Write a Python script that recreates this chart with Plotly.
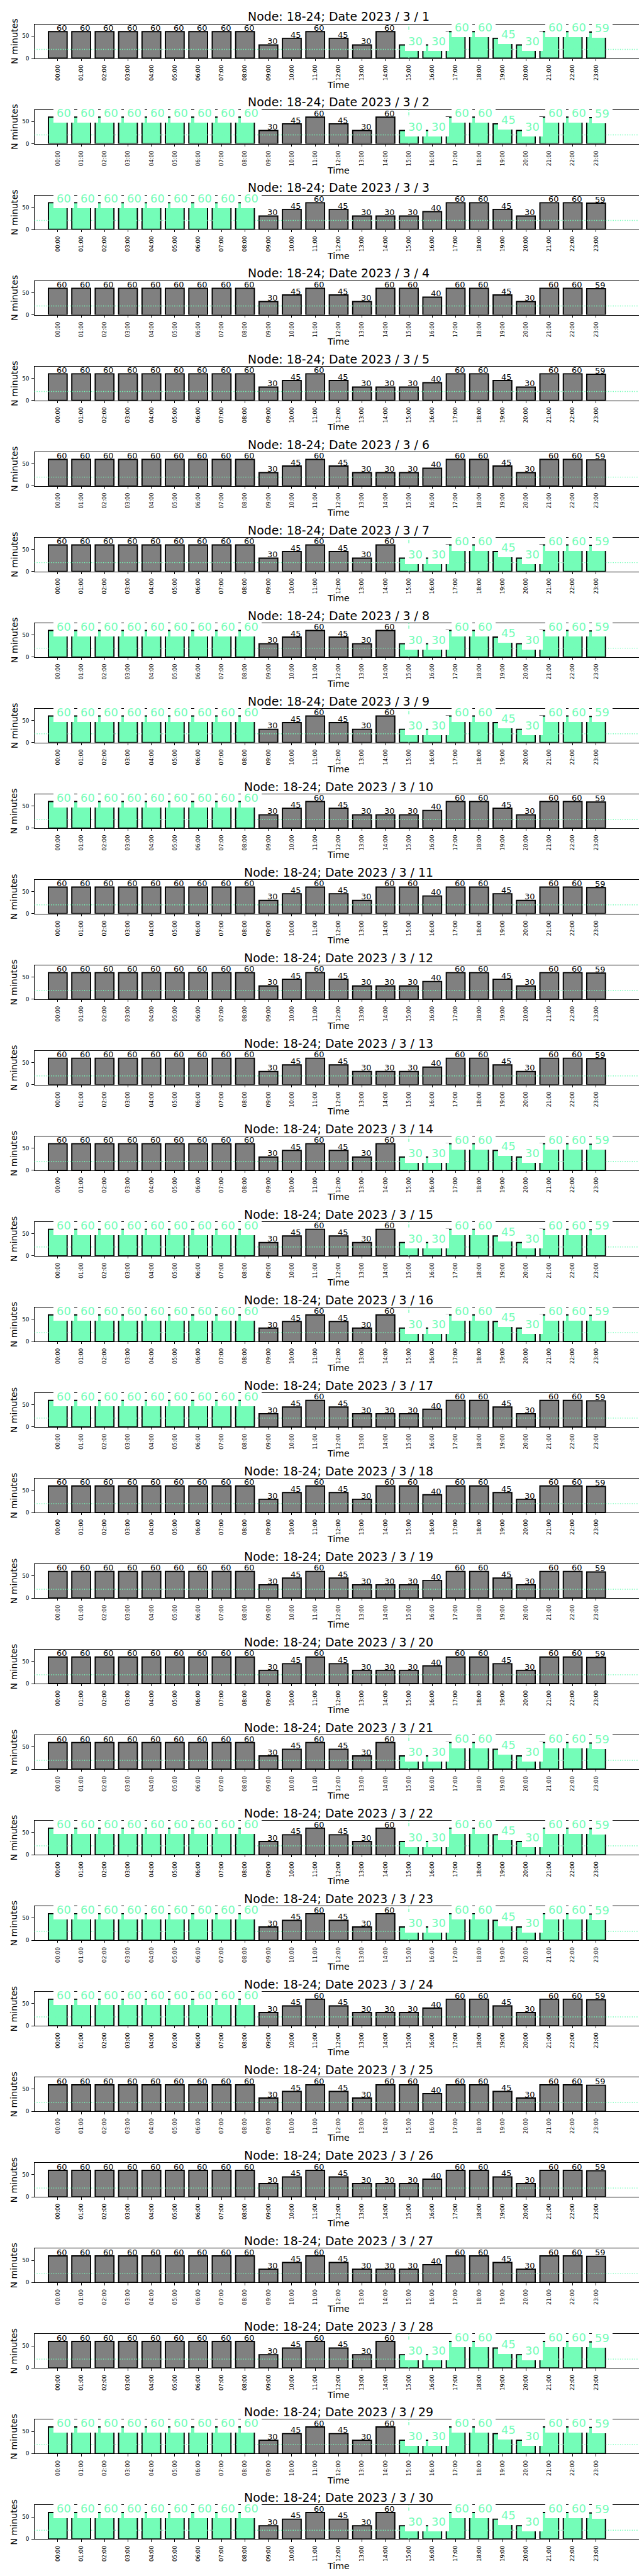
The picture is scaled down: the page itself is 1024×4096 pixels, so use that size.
import plotly.graph_objects as go

# ---------------- data ----------------
hour_labels = ["00:00", "01:00", "02:00", "03:00", "04:00", "05:00", "06:00", "07:00",
               "08:00", "09:00", "10:00", "11:00", "12:00", "13:00", "14:00", "15:00",
               "16:00", "17:00", "18:00", "19:00", "20:00", "21:00", "22:00", "23:00"]

minutes_A = [60, 60, 60, 60, 60, 60, 60, 60, 60, 30, 45, 60, 45, 30, 60, 30, 30, 60, 60, 45, 30, 60, 60, 59]
minutes_B = [60, 60, 60, 60, 60, 60, 60, 60, 60, 30, 45, 60, 45, 30, 30, 30, 40, 60, 60, 45, 30, 60, 60, 59]
minutes_C = [60, 60, 60, 60, 60, 60, 60, 60, 60, 30, 45, 60, 45, 30, 60, 60, 40, 60, 60, 45, 30, 60, 60, 59]
minutes_by_key = {"A": minutes_A, "B": minutes_B, "C": minutes_C}

days = list(range(1, 31))
day_series = ["A", "A", "B", "C", "B", "B", "A", "A", "A", "B",
              "C", "B", "B", "A", "A", "A", "B", "C", "B", "B",
              "A", "A", "A", "B", "C", "B", "B", "A", "A", "A"]
# highlighted (green) hour ranges for each day
day_green = ["15-23", "0-8,15-23", "0-8", "", "", "", "15-23", "0-8,15-23", "0-8,15-23", "0-8",
             "", "", "", "15-23", "0-8,15-23", "0-8,15-23", "0-8", "", "", "",
             "15-23", "0-8,15-23", "0-8,15-23", "0-8", "", "", "", "15-23", "0-8,15-23", "0-8,15-23"]
threshold = 20

# ---------------- styling ----------------
S = 1024 / 1500.0
FW, FH = 1500.0, 6000.0
FONT = "DejaVu Sans"
GRAY = "#808080"
GREEN = "#74FDB8"
Y_MAX = 76.5

AX_L, AX_R = 68.3, 1485.7
AX_TOP0, AX_STEP, AX_H = 45.0, 199.5, 79.0


def green_set(spec):
    out = set()
    if spec:
        for part in spec.split(","):
            a, b = part.split("-")
            out.update(range(int(a), int(b) + 1))
    return out


fig = go.Figure()
layout = dict(
    width=1024, height=4096,
    margin=dict(l=0, r=0, t=0, b=0),
    paper_bgcolor="white", plot_bgcolor="white",
    showlegend=False,
    font=dict(family=FONT, color="black"),
)
shapes = []
label_anns = []
text_anns = []

x_pos = list(range(len(hour_labels)))

for k, day in enumerate(days):
    sfx = "" if k == 0 else str(k + 1)
    xa, ya = "x" + sfx, "y" + sfx
    top = AX_TOP0 + AX_STEP * k
    bot = top + AX_H
    vals = minutes_by_key[day_series[k]]
    greens = green_set(day_green[k])
    colors = [GREEN if i in greens else GRAY for i in x_pos]

    fig.add_trace(go.Bar(
        x=x_pos, y=vals, width=0.8, xaxis=xa, yaxis=ya,
        marker=dict(color=colors, line=dict(color="black", width=2.8 * S)),
        hoverinfo="skip",
    ))

    layout["xaxis" + sfx] = dict(
        domain=[AX_L / FW, AX_R / FW], anchor=ya, range=[-1, 25],
        tickmode="array", tickvals=x_pos, ticktext=hour_labels, tickangle=-90,
        ticks="outside", ticklen=4.9 * S, tickwidth=1.1 * S, tickcolor="black",
        showline=True, mirror=True, linecolor="black", linewidth=1,
        showgrid=False, zeroline=False,
        tickfont=dict(family=FONT, size=12.7 * S, color="black"),
        ticklabelstandoff=3,
    )
    layout["yaxis" + sfx] = dict(
        domain=[1 - bot / FH, 1 - top / FH], anchor=xa, range=[0, Y_MAX],
        tickmode="array", tickvals=[0, 50], ticktext=["0", "50"],
        ticks="outside", ticklen=4.9 * S, tickwidth=1.1 * S, tickcolor="black",
        showline=True, mirror=True, linecolor="black", linewidth=1,
        showgrid=False, zeroline=False,
        tickfont=dict(family=FONT, size=13 * S, color="black"),
        ticklabelstandoff=2,
    )

    # threshold line
    shapes.append(dict(
        type="line", xref=xa + " domain", x0=0, x1=1, yref=ya, y0=threshold, y1=threshold,
        line=dict(color=GREEN, width=2.08 * S, dash="%.2fpx,%.2fpx" % (2.08 * S, 3.44 * S)),
        layer="above",
    ))
    if 15 in greens:
        shapes.append(dict(
            type="line", xref=xa, x0=15, x1=15, yref=ya + " domain", y0=0, y1=1,
            line=dict(color=GREEN, width=2.08 * S, dash="%.2fpx,%.2fpx" % (7.7 * S, 3.3 * S)),
            layer="above",
        ))

    # value labels
    for i, v in zip(x_pos, vals):
        if i in greens:
            label_anns.append(dict(
                xref=xa, yref=ya, x=i + 0.27, y=v, text=str(v), showarrow=False,
                xanchor="center", yanchor="bottom", yshift=-13.3 * S,
                font=dict(family=FONT, size=26.2 * S, color=GREEN),
                bgcolor="white", borderpad=7.4 * S, borderwidth=0,
            ))
        else:
            label_anns.append(dict(
                xref=xa, yref=ya, x=i + 0.18, y=v, text=str(v), showarrow=False,
                xanchor="center", yanchor="bottom", yshift=-2.5 * S,
                font=dict(family=FONT, size=19 * S, color="black"),
                borderpad=0, borderwidth=0,
            ))

    # title, axis labels
    text_anns.append(dict(
        xref="paper", yref="paper", x=777 / FW, y=1 - (top - 18) / FH,
        text="Node: 18-24; Date 2023 / 3 / %d" % day, showarrow=False,
        xanchor="center", yanchor="middle",
        font=dict(family=FONT, size=27.7 * S, color="black"),
    ))
    text_anns.append(dict(
        xref="paper", yref="paper", x=21 / FW, y=1 - (top + bot) / 2 / FH,
        text="N minutes", showarrow=False, textangle=-90,
        xanchor="center", yanchor="middle",
        font=dict(family=FONT, size=20.8 * S, color="black"),
    ))
    text_anns.append(dict(
        xref="paper", yref="paper", x=777 / FW, y=1 - (bot + 62) / FH,
        text="Time", showarrow=False,
        xanchor="center", yanchor="middle",
        font=dict(family=FONT, size=20.8 * S, color="black"),
    ))

layout["shapes"] = shapes
layout["annotations"] = label_anns + text_anns
fig.update_layout(**layout)
fig.write_html("out.html")
